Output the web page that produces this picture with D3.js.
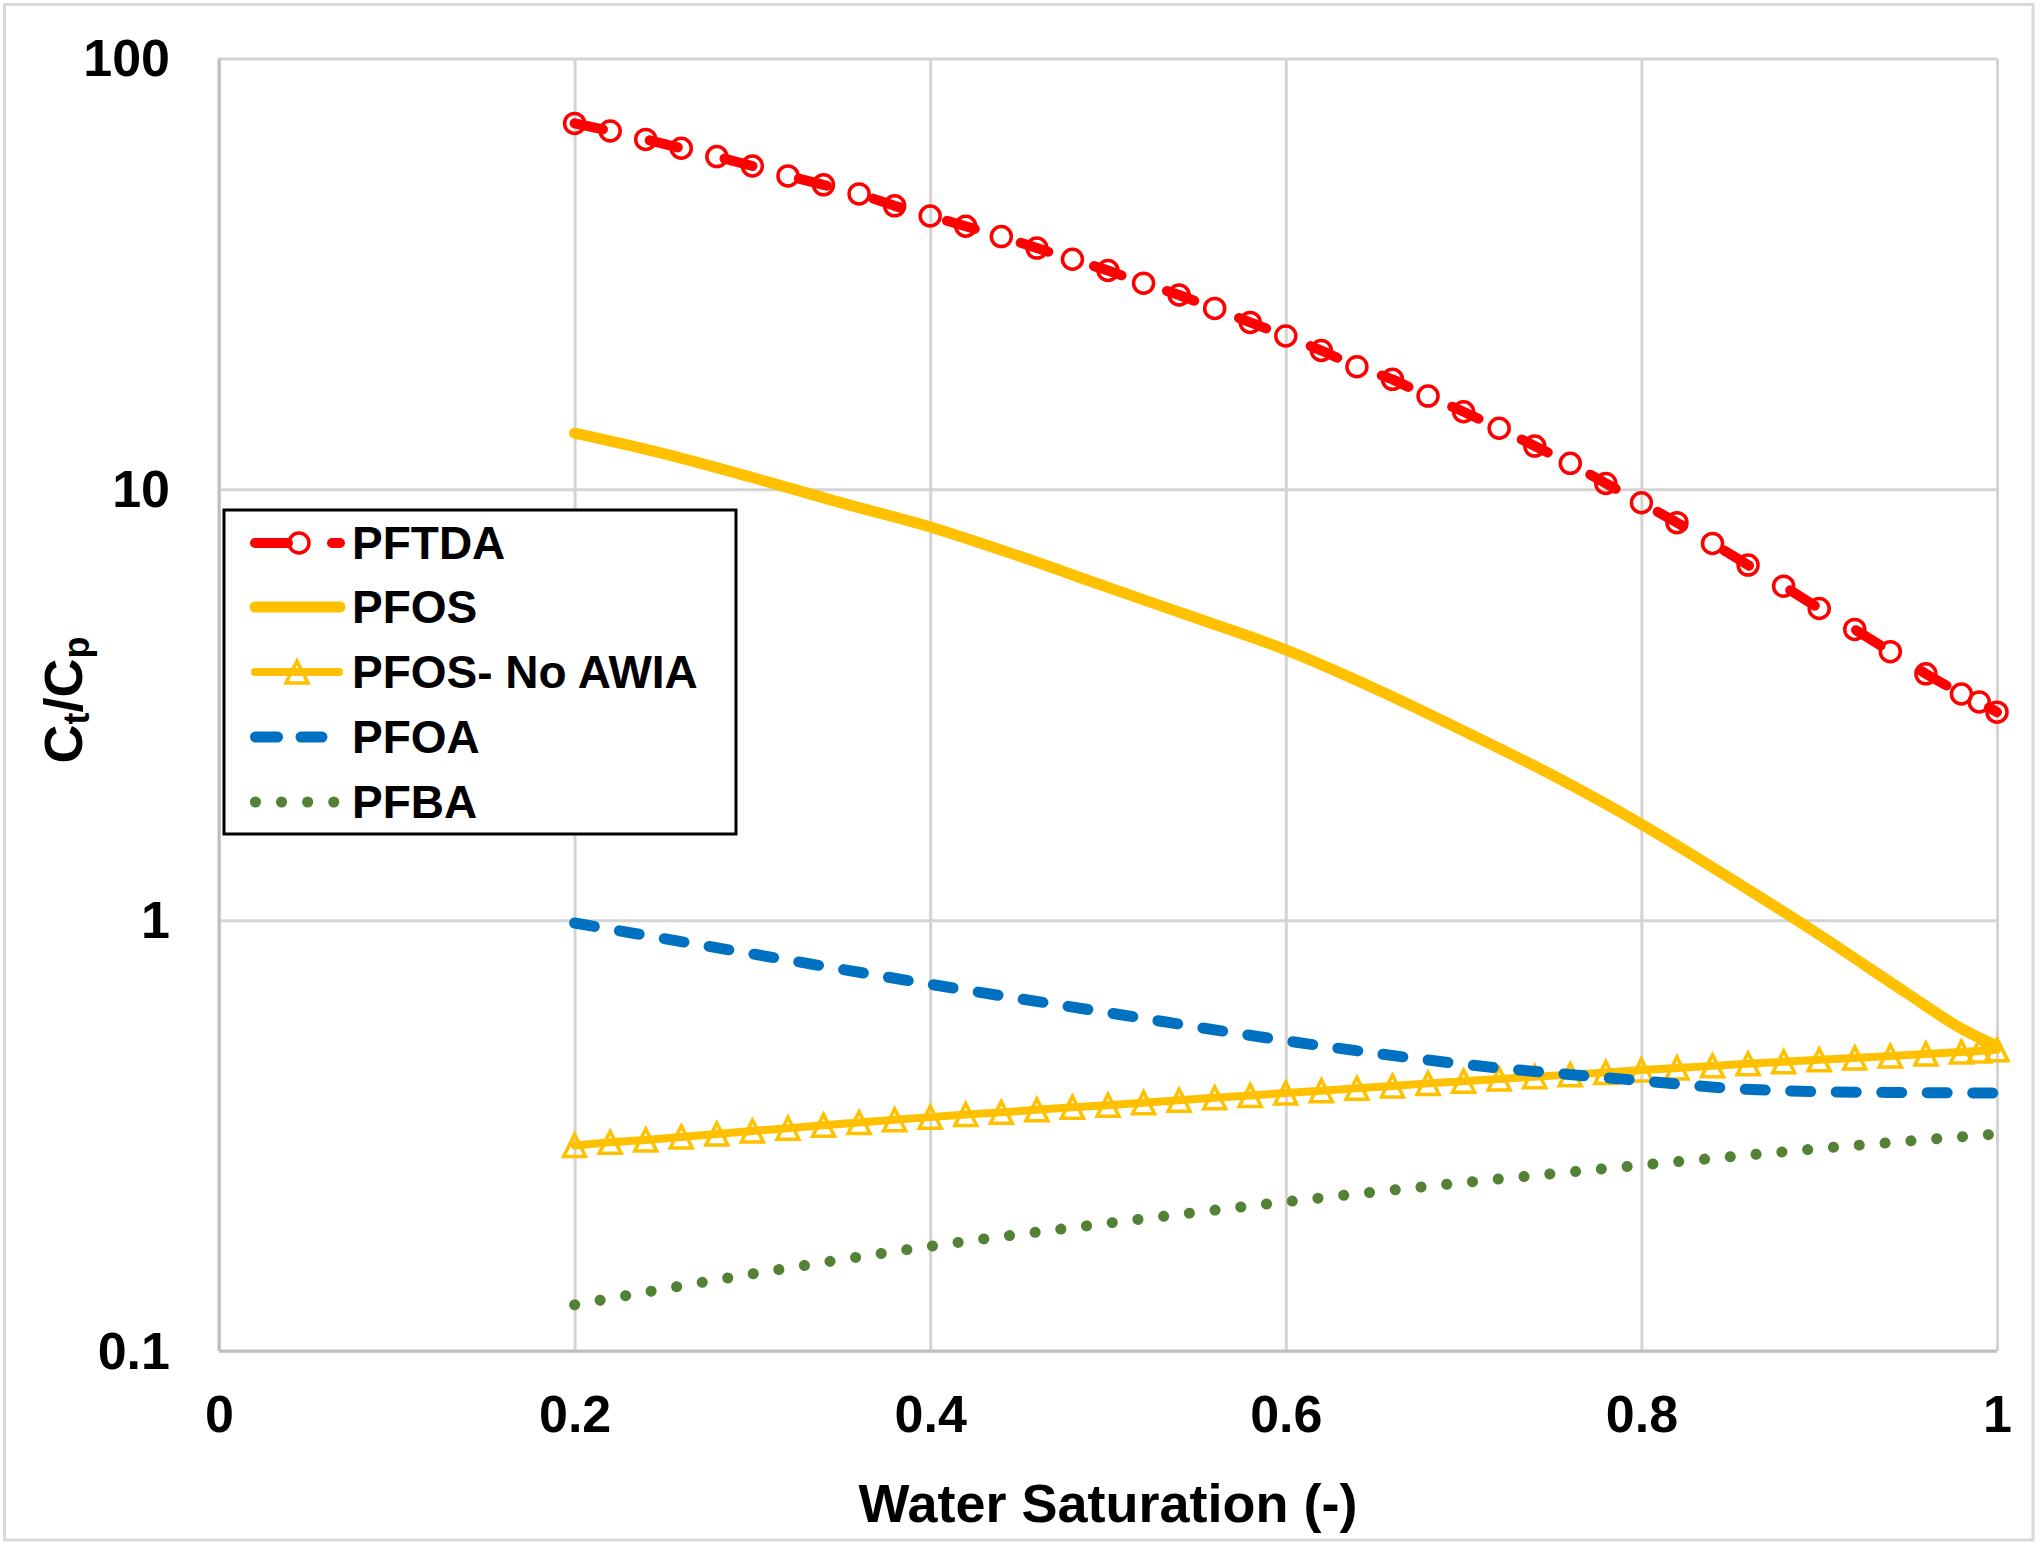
<!DOCTYPE html>
<html><head><meta charset="utf-8">
<script src="https://cdn.jsdelivr.net/npm/d3@7"></script>
<style>body{margin:0;background:#fff} svg{display:block}</style>
</head><body><svg id="c" width="2040" height="1547"></svg>
<script>
// ---- data ----
const saturation = [0.2,0.22,0.24,0.26,0.28,0.3,0.32,0.34,0.36,0.38,0.4,0.42,0.44,0.46,0.48,0.5,0.52,0.54,0.56,0.58,0.6,0.62,0.64,0.66,0.68,0.7,0.72,0.74,0.76,0.78,0.8,0.82,0.84,0.86,0.88,0.9,0.92,0.94,0.96,0.98,0.99,1.0];
const pftda = [70.7,67.9,64.9,61.9,59.2,56.3,53.4,50.9,48.5,45.5,43.1,40.8,38.6,36.3,34.2,32.2,30.1,28.25,26.3,24.4,22.7,21.0,19.26,18.0,16.46,15.14,13.86,12.6,11.49,10.32,9.31,8.37,7.49,6.67,5.96,5.29,4.73,4.2,3.73,3.35,3.21,3.04];
const pfosNoAwia = [0.300,0.305,0.309,0.314,0.319,0.324,0.329,0.334,0.339,0.344,0.349,0.354,0.358,0.363,0.368,0.372,0.377,0.382,0.387,0.392,0.397,0.402,0.407,0.412,0.418,0.423,0.428,0.433,0.438,0.443,0.449,0.454,0.459,0.464,0.469,0.474,0.479,0.484,0.489,0.494,0.497,0.500];
const pfosSat = [0.2,0.25,0.3,0.35,0.4,0.45,0.5,0.55,0.6,0.65,0.7,0.75,0.8,0.85,0.9,0.95,0.98,1.0];
const pfos = [13.5,12.1,10.65,9.3,8.18,7.0,5.92,5.02,4.24,3.45,2.75,2.17,1.67,1.25,0.925,0.674,0.56,0.51];
const pfoaSat = [0.2,0.3,0.4,0.5,0.6,0.7,0.8,0.85,0.9,0.95,1.0];
const pfoa = [0.985,0.835,0.71,0.61,0.525,0.463,0.424,0.407,0.400,0.398,0.397];
const pfbaSat = [0.2,0.3,0.4,0.5,0.6,0.7,0.8,0.9,1.0];
const pfba = [0.128,0.151,0.175,0.198,0.222,0.246,0.270,0.295,0.319];
const xTicks = [0,0.2,0.4,0.6,0.8,1];
const yTicks = [0.1,1,10,100];
const seriesNames = ["PFTDA","PFOS","PFOS- No AWIA","PFOA","PFBA"];

// ---- layout ----
const L=219,R=1997,T=58.5,B=1351;
const FONT = "'Liberation Sans', Arial, sans-serif";
const svg = d3.select("#c");
const x = d3.scaleLinear().domain([0,1]).range([L,R]);
const y = d3.scaleLog().domain([0.1,100]).range([B,T]);

svg.append("rect").attr("x",4.5).attr("y",4.5).attr("width",2028.5).attr("height",1535.5)
  .attr("fill","#fff").attr("stroke","#d9d9d9").attr("stroke-width",3);

// grid
svg.append("g").attr("transform",`translate(0,${B})`)
  .call(d3.axisBottom(x).tickValues(xTicks).tickSize(-(B-T)).tickFormat(""))
  .call(g=>g.select(".domain").remove())
  .selectAll("line").attr("stroke","#d4d4d4").attr("stroke-width",3);
svg.append("g").attr("transform",`translate(${L},0)`)
  .call(d3.axisLeft(y).tickValues(yTicks).tickSize(-(R-L)).tickFormat(""))
  .call(g=>g.select(".domain").remove())
  .selectAll("line").attr("stroke","#d4d4d4").attr("stroke-width",3);
svg.append("line").attr("x1",L).attr("x2",L).attr("y1",T).attr("y2",B).attr("stroke","#bfbfbf").attr("stroke-width",3);
svg.append("line").attr("x1",L).attr("x2",R).attr("y1",B).attr("y2",B).attr("stroke","#bfbfbf").attr("stroke-width",3);

// tick labels
const fmt = d3.format("~g");
const xa = svg.append("g").attr("transform",`translate(0,${B})`)
  .call(d3.axisBottom(x).tickValues(xTicks).tickSize(0).tickPadding(44).tickFormat(fmt));
xa.select(".domain").remove();
const ya = svg.append("g").attr("transform",`translate(${L},0)`)
  .call(d3.axisLeft(y).tickValues(yTicks).tickSize(0).tickPadding(49).tickFormat(fmt));
ya.select(".domain").remove();
[xa,ya].forEach(a=>a.selectAll("text").attr("font-family",FONT).attr("font-weight","bold")
  .attr("font-size",52).attr("fill","#000"));
ya.selectAll("text").attr("dy","0.33em");

// axis titles
svg.append("text").attr("x",(L+R)/2).attr("y",1522).attr("text-anchor","middle")
  .attr("font-family",FONT).attr("font-weight","bold").attr("font-size",54).text("Water Saturation (-)");
const yt = svg.append("text").attr("transform","translate(82,700) rotate(-90)").attr("text-anchor","middle")
  .attr("font-family",FONT).attr("font-weight","bold").attr("font-size",54);
yt.append("tspan").text("C");
yt.append("tspan").attr("font-size",36).attr("dy",7).text("t");
yt.append("tspan").attr("dy",-7).text("/C");
yt.append("tspan").attr("font-size",36).attr("dy",7).text("p");

// series
const line = d3.line().x(d=>x(d[0])).y(d=>y(d[1]));
const smooth = d3.line().x(d=>x(d[0])).y(d=>y(d[1])).curve(d3.curveMonotoneX);
const zip = (a,b)=>a.map((v,i)=>[v,b[i]]);
const RED="#FF0000", YEL="#FFC000", BLUE="#0070C0", GREEN="#548235";
const tri = "M0,-11L11,11L-11,11Z";

const dPftda = zip(saturation,pftda);
svg.append("path").datum(dPftda).attr("d",line).attr("fill","none").attr("stroke",RED)
  .attr("stroke-width",10).attr("stroke-dasharray","29 48").attr("stroke-linecap","round").attr("stroke-linejoin","round");
svg.append("g").selectAll("circle").data(dPftda).join("circle")
  .attr("cx",d=>x(d[0])).attr("cy",d=>y(d[1])).attr("r",10)
  .attr("fill","none").attr("stroke",RED).attr("stroke-width",3.5);

svg.append("path").datum(zip(pfosSat,pfos)).attr("d",smooth).attr("fill","none").attr("stroke",YEL)
  .attr("stroke-width",11).attr("stroke-linecap","round").attr("stroke-linejoin","round");

const dNo = zip(saturation,pfosNoAwia);
svg.append("path").datum(dNo).attr("d",line).attr("fill","none").attr("stroke",YEL)
  .attr("stroke-width",8).attr("stroke-linecap","round").attr("stroke-linejoin","round");
svg.append("g").selectAll("path").data(dNo).join("path")
  .attr("transform",d=>`translate(${x(d[0])},${y(d[1])})`).attr("d",tri)
  .attr("fill","none").attr("stroke",YEL).attr("stroke-width",3.5);

svg.append("path").datum(zip(pfoaSat,pfoa)).attr("d",smooth).attr("fill","none").attr("stroke",BLUE)
  .attr("stroke-width",11).attr("stroke-dasharray","20 25.5").attr("stroke-linecap","round").attr("stroke-linejoin","round");

svg.append("path").datum(zip(pfbaSat,pfba)).attr("d",smooth).attr("fill","none").attr("stroke",GREEN)
  .attr("stroke-width",11).attr("stroke-dasharray","0.1 25.8").attr("stroke-linecap","round").attr("stroke-linejoin","round");

// legend
const lg = svg.append("g");
lg.append("rect").attr("x",224).attr("y",510).attr("width",512).attr("height",324)
  .attr("fill","#fff").attr("stroke","#000").attr("stroke-width",3);
const rows=[543,607,672,737,802];
const seg=(x1,x2,yy,col,w,dash)=>{const p=lg.append("path").attr("d",`M${x1},${yy}H${x2}`).attr("stroke",col)
  .attr("stroke-width",w).attr("stroke-linecap","round").attr("fill","none"); if(dash) p.attr("stroke-dasharray",dash);};
seg(255,340,rows[0],RED,10,"33 44");
lg.append("circle").attr("cx",299).attr("cy",rows[0]).attr("r",10).attr("fill","none").attr("stroke",RED).attr("stroke-width",3.5);
seg(255,340,rows[1],YEL,11);
seg(255,339,rows[2],YEL,8);
lg.append("path").attr("transform",`translate(297,${rows[2]})`).attr("d",tri).attr("fill","none").attr("stroke",YEL).attr("stroke-width",3.5);
seg(255.5,322,rows[3],BLUE,11,"22 23.5");
seg(255.4,340,rows[4],GREEN,11,"0.1 26");
lg.selectAll("text.lab").data(seriesNames).join("text").attr("class","lab")
  .attr("x",352).attr("y",(d,i)=>rows[i]+16).attr("font-family",FONT).attr("font-weight","bold")
  .attr("font-size",46).text(d=>d);
</script></body></html>
